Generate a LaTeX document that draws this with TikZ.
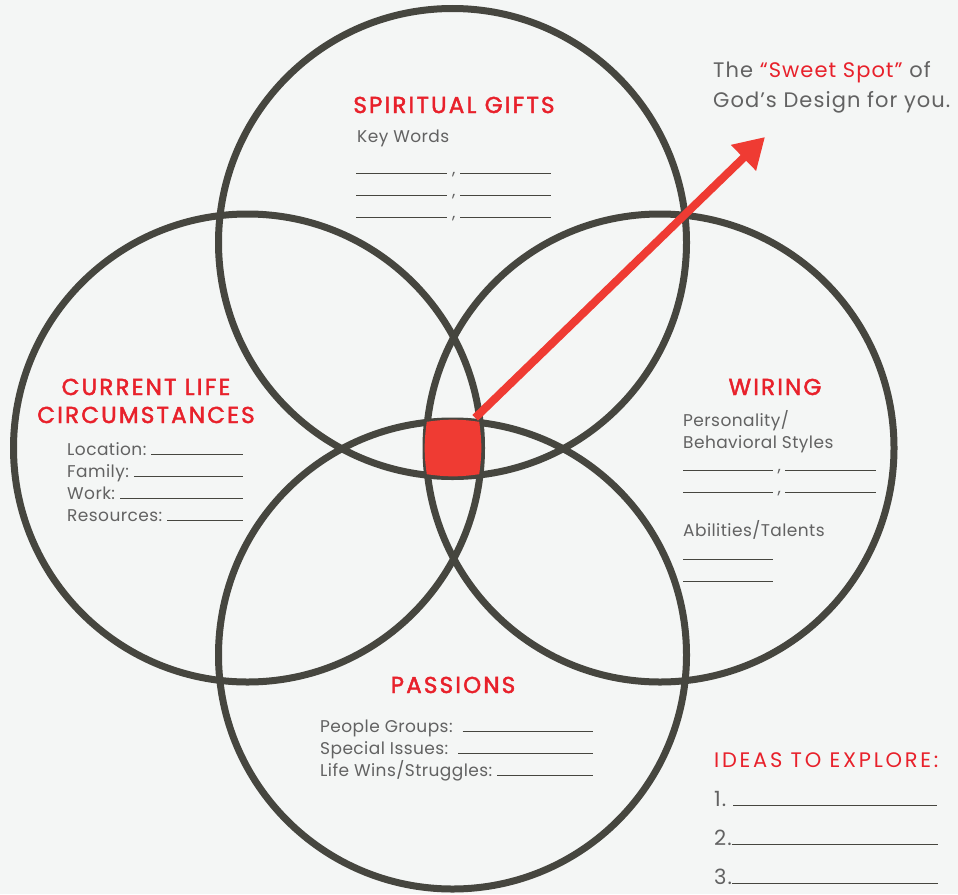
\documentclass[tikz,border=0pt]{standalone}
\usepackage{fontspec}
\setmainfont{Poppins}
\newfontfamily\headfont[LetterSpace=9.5, FakeBold=2]{Poppins}
\newfontfamily\bodyfont[LetterSpace=2.5]{Poppins}
\newfontfamily\bigfont[LetterSpace=5]{Poppins}
\newfontfamily\capsfont[LetterSpace=13]{Poppins}
\usetikzlibrary{arrows.meta}
\definecolor{paper}{HTML}{F4F6F5}
\definecolor{ringgray}{HTML}{46463F}
\definecolor{spotred}{HTML}{EF3B33}
\definecolor{headred}{HTML}{E8212B}
\definecolor{ink}{HTML}{626262}
\newcommand{\blank}[1]{\textcolor{ringgray}{\rule{#1}{1.2pt}}}
\newcommand{\blankfill}{{\color{ringgray}\leaders\hrule height 1.2pt\hfill\kern0pt}}
\tikzset{
  ring/.style={draw=ringgray, line width=7pt, circle, minimum size=468pt, inner sep=0pt},
  head/.style={text=headred, font=\headfont\fontsize{23}{27}\selectfont, anchor=base, inner sep=0pt},
  body/.style={text=ink, font=\bodyfont\fontsize{17}{22}\selectfont, anchor=base west, inner sep=0pt},
  big/.style={font=\bigfont\fontsize{21}{25}\selectfont, anchor=base west, inner sep=0pt},
}
\begin{document}
\begin{tikzpicture}[x=1pt, y=-1pt]
\fill[paper] (0,0) rectangle (958,894);
\useasboundingbox (0,0) rectangle (958,894);

\node[ring] (spirit) at (452.5,242.5) {};
\node[ring] (life) at (247.5,448) {};
\node[ring] (wiring) at (660,448) {};
\node[ring] (passion) at (452.5,655) {};

\node[fill=spotred, minimum size=52pt, inner sep=0pt] (spot) at (453,448) {};
\fill[spotred] (spot.north west) to[bend left=8] (spot.north east) to[bend left=8] (spot.south east)
  to[bend left=8] (spot.south west) to[bend left=8] cycle;
\coordinate (tip) at (765,137);
\draw[spotred, line width=8pt, -{Triangle[length=30pt, width=34pt]}] (spot.north east) ++(-4pt,4pt) -- (tip);

\node[head] (spirithead) at (454,113) {SPIRITUAL GIFTS};
\node[body] (keywords) at (357,142) {Key Words};
\node[body] (kw1) at (356,174) {\makebox[195pt]{\blank{91pt}\hfill,\hfill\blank{91pt}}};
\node[body] (kw2) at (356,196) {\makebox[195pt]{\blank{91pt}\hfill,\hfill\blank{91pt}}};
\node[body] (kw3) at (356,218) {\makebox[195pt]{\blank{91pt}\hfill,\hfill\blank{91pt}}};

\node[head] (lifehead1) at (146,395) {CURRENT LIFE};
\node[head] (lifehead2) at (146,423) {CIRCUMSTANCES};
\node[body] (location) at (67,455) {\makebox[176pt][l]{Location:~\blankfill}};
\node[body] (family) at (67,477) {\makebox[176pt][l]{Family:~\blankfill}};
\node[body] (work) at (67,499) {\makebox[176pt][l]{Work:~\blankfill}};
\node[body] (resources) at (67,521) {\makebox[176pt][l]{Resources:~\blankfill}};

\node[head] (wiringhead) at (775,395) {WIRING};
\node[body] (personality) at (683,426) {Personality/};
\node[body] (behavior) at (683,448) {Behavioral Styles};
\node[body] (bs1) at (683,471) {\makebox[193pt]{\blank{90pt}\hfill,\hfill\blank{91pt}}};
\node[body] (bs2) at (683,493) {\makebox[193pt]{\blank{90pt}\hfill,\hfill\blank{91pt}}};
\node[body] (talents) at (683,536) {Abilities/Talents};
\node[body] (at1) at (683,560) {\blank{90pt}};
\node[body] (at2) at (683,582) {\blank{90pt}};

\node[head] (passionhead) at (453,693) {PASSIONS};
\node[body] (people) at (320,732) {\makebox[273pt][l]{People Groups:~~\blankfill}};
\node[body] (issues) at (320,754) {\makebox[273pt][l]{Special Issues:~~\blankfill}};
\node[body] (wins) at (320,776) {\makebox[273pt][l]{Life Wins/Struggles:~\blankfill}};

\node[big, text=ink] (sweet1) at (713,77) {The \textcolor{headred}{“Sweet Spot”} of};
\node[big, text=ink] (sweet2) at (713,107) {God’s Design for you.};

\node[big, text=headred, font=\capsfont\fontsize{21}{25}\selectfont] (ideas) at (714,767) {IDEAS TO EXPLORE:};
\node[big, text=ink] (idea1) at (714,806) {\makebox[223pt][l]{1.~\blankfill}};
\node[big, text=ink] (idea2) at (714,845) {\makebox[224pt][l]{2.\blankfill}};
\node[big, text=ink] (idea3) at (714,884) {\makebox[224pt][l]{3.\blankfill}};
\end{tikzpicture}
\end{document}
